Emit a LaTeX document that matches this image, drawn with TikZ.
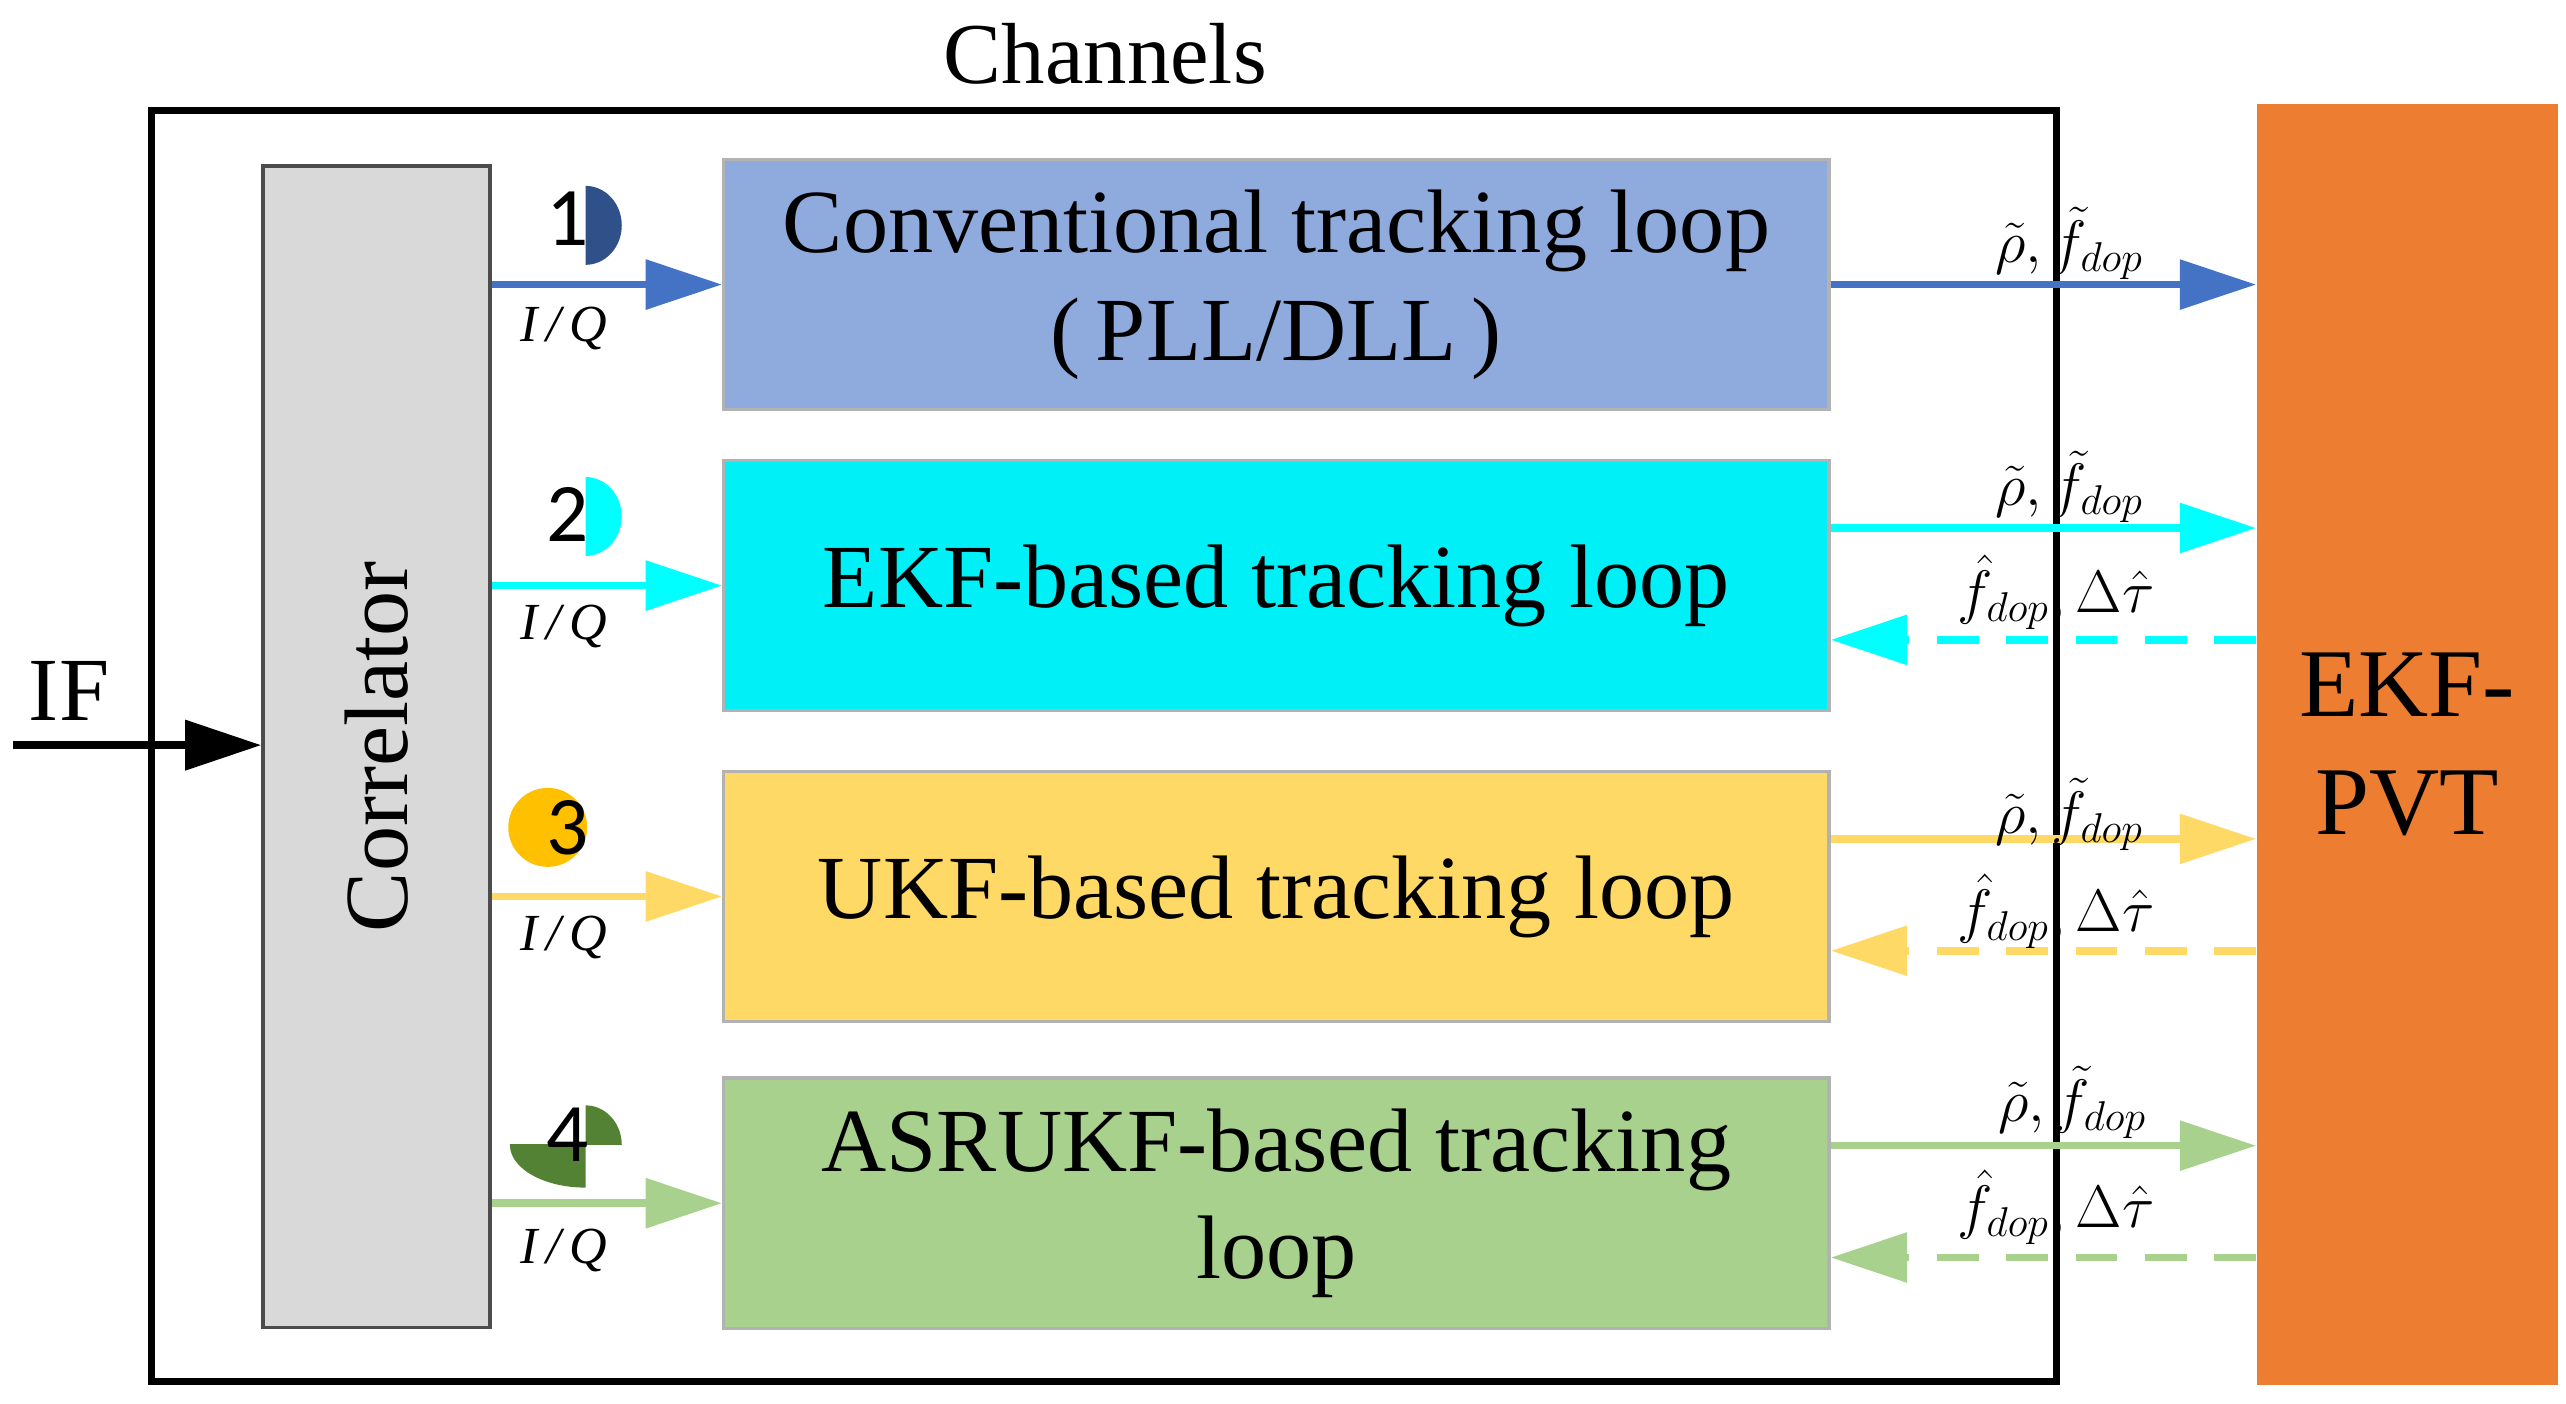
\documentclass[tikz,border=0pt]{standalone}
\usepackage{fontspec}
\setmainfont{Liberation Serif}
\newfontfamily\numf{Carlito}
\usetikzlibrary{arrows.meta,positioning}
\definecolor{cblue}{HTML}{4472C4}
\definecolor{fblue}{HTML}{8FAADC}
\definecolor{ccyan}{HTML}{00FFFF}
\definecolor{fcyan}{HTML}{00F0F8}
\definecolor{cyel}{HTML}{FFD966}
\definecolor{corg}{HTML}{FFC000}
\definecolor{cgrn}{HTML}{A9D18E}
\definecolor{dgrn}{HTML}{548235}
\definecolor{pvt}{HTML}{ED7D31}
\begin{document}
\begin{tikzpicture}[x=0.016667cm,y=-0.016667cm,
  blk/.style={draw=black!30,line width=1pt,minimum width=672*0.016667cm,minimum height=152*0.016667cm,inner sep=0pt,align=center,font=\fontsize{26}{31}\selectfont},
  arr/.style={line width=2.2pt,-{Triangle[length=22pt,width=14pt]}},
  dar/.style={arr,dash pattern=on 12pt off 8pt},
  iq/.style={font=\fontsize{15}{18}\selectfont\itshape},
  ml/.style={font=\fontsize{18}{20}\selectfont},
  num/.style={font=\numf\fontsize{24}{28}\selectfont}]
\useasboundingbox (0,0) rectangle (1560,853);
\node[draw,line width=2pt,minimum width=1158*0.016667cm,minimum height=773*0.016667cm,inner sep=0pt] (ch) at (671,453.5) {};
\node[font=\fontsize{25}{30}\selectfont] (cht) at (672,33) {Channels};
\node[draw=black!70,fill=black!15,line width=1pt,minimum width=138*0.016667cm,minimum height=706*0.016667cm,inner sep=0pt] (corr) at (229,454) {};
\node[rotate=90,font=\fontsize{26}{31}\selectfont] (corrt) at (229,454) {Correlator};
\node[fill=pvt,minimum width=183*0.016667cm,minimum height=779*0.016667cm,inner sep=0pt,align=center,font=\fontsize{28}{34}\selectfont] (pvt) at (1463.5,452.5) {EKF-\\PVT};
\node[blk,fill=fblue] (b1) at (776,173) {Conventional tracking loop\\(\,PLL/DLL\,)};
\node[blk,fill=fcyan] (b2) at (776,356) {EKF-based tracking loop};
\node[blk,fill=cyel] (b3) at (776,545) {UKF-based tracking loop};
\node[blk,fill=cgrn] (b4) at (776,731.5) {ASRUKF-based tracking\\loop};
\coordinate (ifs) at (8,453);
\node[font=\fontsize{26}{31}\selectfont] (if) at (42,420) {IF};
\draw[arr,line width=2.5pt] (ifs) -- (ifs -| corr.west);
% icons
\begin{scope}\clip (356,100) rectangle (400,170);
\fill[cblue!70!black] (356,137) circle[x radius=22,y radius=24];\end{scope}
\begin{scope}\clip (356,280) rectangle (400,350);
\fill[ccyan] (356,314) circle[x radius=22,y radius=24];\end{scope}
\fill[corg] (333,503) circle[radius=24];
\begin{scope}\clip (356,650) rectangle (400,696);
\fill[dgrn] (356,696) circle[x radius=22,y radius=24];\end{scope}
\begin{scope}\clip (300,696) rectangle (356,740);
\fill[dgrn] (356,696) circle[x radius=46,y radius=26];\end{scope}
\node[num] at (345,133) {1};
\node[num] at (345,313) {2};
\node[num] at (345,503) {3};
\node[num] at (345,690) {4};
\foreach \b/\c/\y in {b1/cblue/200,b2/ccyan/381,b3/cyel/570,b4/cgrn/760}{
  \draw[arr,\c] (corr.east |- \b.west) -- (\b.west);
  \node[iq] at (343,\y) {I\,/\,Q};
}
\draw[arr,cblue] (b1.east) -- (pvt.west |- b1.east);
\foreach \b/\c in {b2/ccyan,b3/cyel,b4/cgrn}{
  \draw[arr,\c] ([yshift=35*0.016667cm]\b.east) -- ([yshift=35*0.016667cm]\b.east -| pvt.west);
  \draw[dar,\c] ([yshift=-33*0.016667cm]\b.east -| pvt.west) -- ([yshift=-33*0.016667cm]\b.east);
}
\node[ml] at (1258,148) {$\tilde\rho,\tilde f_{dop}$};
\node[ml] at (1258,296) {$\tilde\rho,\tilde f_{dop}$};
\node[ml] at (1250,360) {$\hat f_{dop},\Delta\hat\tau$};
\node[ml] at (1258,495) {$\tilde\rho,\tilde f_{dop}$};
\node[ml] at (1250,554) {$\hat f_{dop},\Delta\hat\tau$};
\node[ml] at (1260,670) {$\tilde\rho,\tilde f_{dop}$};
\node[ml] at (1250,734) {$\hat f_{dop},\Delta\hat\tau$};
\end{tikzpicture}
\end{document}
